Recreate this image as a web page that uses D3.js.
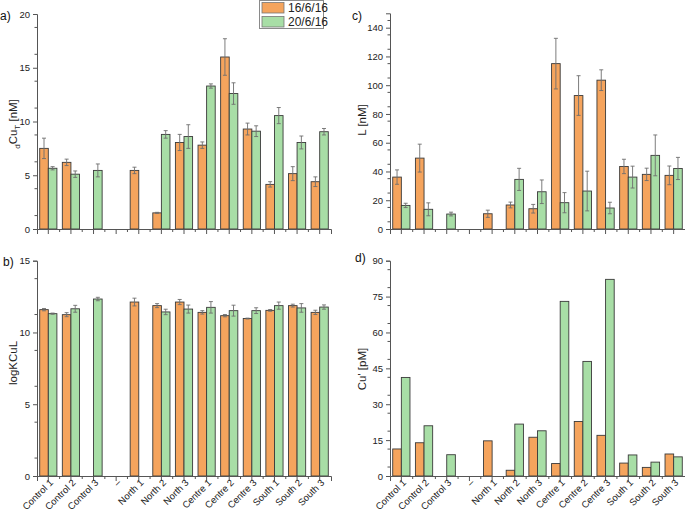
<!DOCTYPE html>
<html><head><meta charset="utf-8">
<script src="https://cdn.jsdelivr.net/npm/d3@7"></script>
<style>body{margin:0;background:#fff}svg{font-family:"Liberation Sans",Arial,sans-serif}</style>
</head><body><svg id="c" width="685" height="515"></svg>
<script>
const categories = ["Control 1","Control 2","Control 3","\u2013","North 1","North 2","North 3","Centre 1","Centre 2","Centre 3","South 1","South 2","South 3"];
const seriesNames = ["16/6/16","20/6/16"];
// a) dCuT [nM]
const cuT_1606 = [7.5,6.2,null,null,5.45,1.5,8.05,7.8,16.0,9.3,4.15,5.15,4.4];
const cuT_1606_err = [0.95,0.3,null,null,0.3,0.05,0.75,0.3,1.7,0.55,0.25,0.65,0.45];
const cuT_2006 = [5.65,5.1,5.45,null,null,8.8,8.6,13.3,12.6,9.1,10.55,8.05,9.05];
const cuT_2006_err = [0.15,0.3,0.6,null,null,0.35,1.1,0.2,1.0,0.5,0.75,0.6,0.3];
// b) logKCuL
const logK_1606 = [11.59,11.24,null,null,12.12,11.87,12.12,11.4,11.17,10.97,11.54,11.87,11.4];
const logK_1606_err = [0.08,0.14,null,null,0.27,0.14,0.18,0.12,0.08,0.03,0.06,0.1,0.15];
const logK_2006 = [11.31,11.65,12.33,null,null,11.43,11.63,11.75,11.52,11.52,11.87,11.71,11.77];
const logK_2006_err = [0.04,0.24,0.12,null,null,0.19,0.28,0.4,0.38,0.2,0.25,0.3,0.15];
// c) L [nM]
const L_1606 = [36.1,49.3,null,null,10.6,16.7,14.1,115,92.8,103.5,43.5,38,37.3];
const L_1606_err = [5,9.7,null,null,2.5,2,3,17.6,13.8,7.2,5,4.3,6.5];
const L_2006 = [16.4,13.7,10.4,null,null,34.5,25.9,18.3,26.4,14.6,36.1,51.2,42.1];
const L_2006_err = [1.5,4.5,1.3,null,null,7.7,8.2,7,13.8,4,7.6,14.2,7.7];
// d) Cu' [pM]
const cuF_1606 = [11.3,13.9,null,null,14.7,2.4,16.2,5.2,22.8,17,5.4,3.6,9.2];
const cuF_2006 = [41.2,21,8.9,null,null,21.7,18.9,73,47.9,82.2,8.8,5.8,8];

const yTicksA = [0,5,10,15,20];
const yTicksB = [0,5,10,15];
const yTicksC = [0,20,40,60,80,100,120,140];
const yTicksD = [0,15,30,45,60,75,90];

const colors = ["#F5A45D","#A8DEA6"];
const svg = d3.select("#c");

function panel(o){
  const g = svg.append("g");
  const x = d3.scaleBand().domain(categories).range([o.left,o.right]).paddingInner(0).paddingOuter(0);
  const bw = x.bandwidth();
  const x1 = d3.scaleBand().domain([0,1]).range([bw*0.12,bw*0.88]);
  const y = d3.scaleLinear().domain(o.domain).range([o.bottom,o.top]);
  // bars
  o.series.forEach((vals,si)=>{
    const errs = o.errs ? o.errs[si] : null;
    const pts = vals.map((v,i)=>({c:categories[i],v:v,e:errs?errs[i]:null})).filter(d=>d.v!=null);
    g.selectAll(null).data(pts).enter().append("rect")
      .attr("x",d=>x(d.c)+x1(si)).attr("width",x1.bandwidth())
      .attr("y",d=>y(d.v)).attr("height",d=>y(0)-y(d.v))
      .attr("fill",colors[si]).attr("stroke","#3a3a3a").attr("stroke-width",0.9);
    if(errs){
      const eg = g.selectAll(null).data(pts.filter(d=>d.e!=null)).enter().append("g")
        .attr("stroke","#6e6e6e").attr("stroke-width",0.9);
      const cx = d=>x(d.c)+x1(si)+x1.bandwidth()/2;
      eg.append("line").attr("x1",cx).attr("x2",cx).attr("y1",d=>y(d.v+d.e)).attr("y2",d=>y(d.v-d.e));
      eg.append("line").attr("x1",d=>cx(d)-2).attr("x2",d=>cx(d)+2).attr("y1",d=>y(d.v+d.e)).attr("y2",d=>y(d.v+d.e));
      eg.append("line").attr("x1",d=>cx(d)-2).attr("x2",d=>cx(d)+2).attr("y1",d=>y(d.v-d.e)).attr("y2",d=>y(d.v-d.e));
    }
  });
  // y axis
  const ya = d3.axisLeft(y).tickValues(o.yticks).tickSize(4).tickPadding(3).tickFormat(d3.format("d"));
  const yg = g.append("g").attr("transform",`translate(${o.left},0)`).call(ya);
  yg.select(".domain").attr("stroke","#555");
  yg.selectAll(".tick line").attr("stroke","#555");
  yg.selectAll("text").attr("font-size",9.5).attr("fill","#222");
  const minor = [];
  for(let v=o.domain[0]+o.minor; v<o.domain[1]+1e-9; v+=o.minor*2) minor.push(v);
  g.selectAll(null).data(minor).enter().append("line")
    .attr("x1",o.left-2.5).attr("x2",o.left).attr("y1",d=>y(d)).attr("y2",d=>y(d)).attr("stroke","#555");
  // x axis
  const xa = d3.axisBottom(x).tickSize(5).tickPadding(4);
  const xg = g.append("g").attr("transform",`translate(0,${o.bottom})`).call(xa);
  xg.select(".domain").attr("stroke","#555");
  xg.selectAll(".tick line").attr("stroke","#555");
  if(o.labels){
    xg.selectAll("text").attr("font-size",9.5).attr("fill","#222")
      .attr("text-anchor","end").attr("dy","0.35em")
      .attr("transform","translate(3,5) rotate(-45)").attr("y",0).attr("x",0);
  } else xg.selectAll("text").remove();
  const bounds = categories.slice(1).map(c=>x(c));
  g.selectAll(null).data(bounds).enter().append("line")
    .attr("x1",d=>d).attr("x2",d=>d).attr("y1",o.bottom).attr("y2",o.bottom+3).attr("stroke","#555");
  // title
  const t = g.append("text").attr("transform",`translate(${o.tx},${o.ty}) rotate(-90)`)
    .attr("text-anchor","middle").attr("font-size",11.5).attr("fill","#222");
  o.title(t);
  g.append("text").attr("x",o.lx).attr("y",o.ly).attr("font-size",12).attr("fill","#111").text(o.letter);
}

panel({left:37,right:331,top:14,bottom:229,domain:[0,20],yticks:yTicksA,minor:1.25,
  series:[cuT_1606,cuT_2006],errs:[cuT_1606_err,cuT_2006_err],labels:false,
  tx:17,ty:124,lx:0,ly:20,letter:"a)",
  title:t=>{t.append("tspan").attr("font-size",8).attr("dy",3).text("d");
    t.append("tspan").attr("dy",-3).text("Cu");
    t.append("tspan").attr("font-size",8).attr("dy",3).text("T");
    t.append("tspan").attr("dy",-3).text(" [nM]");}});
panel({left:37,right:331,top:260.7,bottom:476,domain:[0,15],yticks:yTicksB,minor:1.25,
  series:[logK_1606,logK_2006],errs:[logK_1606_err,logK_2006_err],labels:true,
  tx:17,ty:363,lx:3,ly:266,letter:"b)",title:t=>t.text("logKCuL")});
panel({left:390,right:685,top:13.3,bottom:229,domain:[0,150],yticks:yTicksC,minor:5,
  series:[L_1606,L_2006],errs:[L_1606_err,L_2006_err],labels:false,
  tx:366,ty:120,lx:352,ly:20,letter:"c)",title:t=>t.text("L [nM]")});
panel({left:390,right:685,top:260.7,bottom:476,domain:[0,90],yticks:yTicksD,minor:3.75,
  series:[cuF_1606,cuF_2006],errs:null,labels:true,
  tx:366,ty:369,lx:355,ly:262,letter:"d)",title:t=>t.text("Cu' [pM]")});

// legend
const lg = svg.append("g");
lg.append("rect").attr("x",259.5).attr("y",0.5).attr("width",64).attr("height",28)
  .attr("fill","#fff").attr("stroke","#8a8a8a");
seriesNames.forEach((s,i)=>{
  lg.append("rect").attr("x",262).attr("y",2.5+i*14).attr("width",22).attr("height",10.5)
    .attr("fill",colors[i]).attr("stroke","#777").attr("stroke-width",0.8);
  lg.append("text").attr("x",288).attr("y",12+i*14).attr("font-size",12).attr("fill","#222").text(s);
});
</script></body></html>
